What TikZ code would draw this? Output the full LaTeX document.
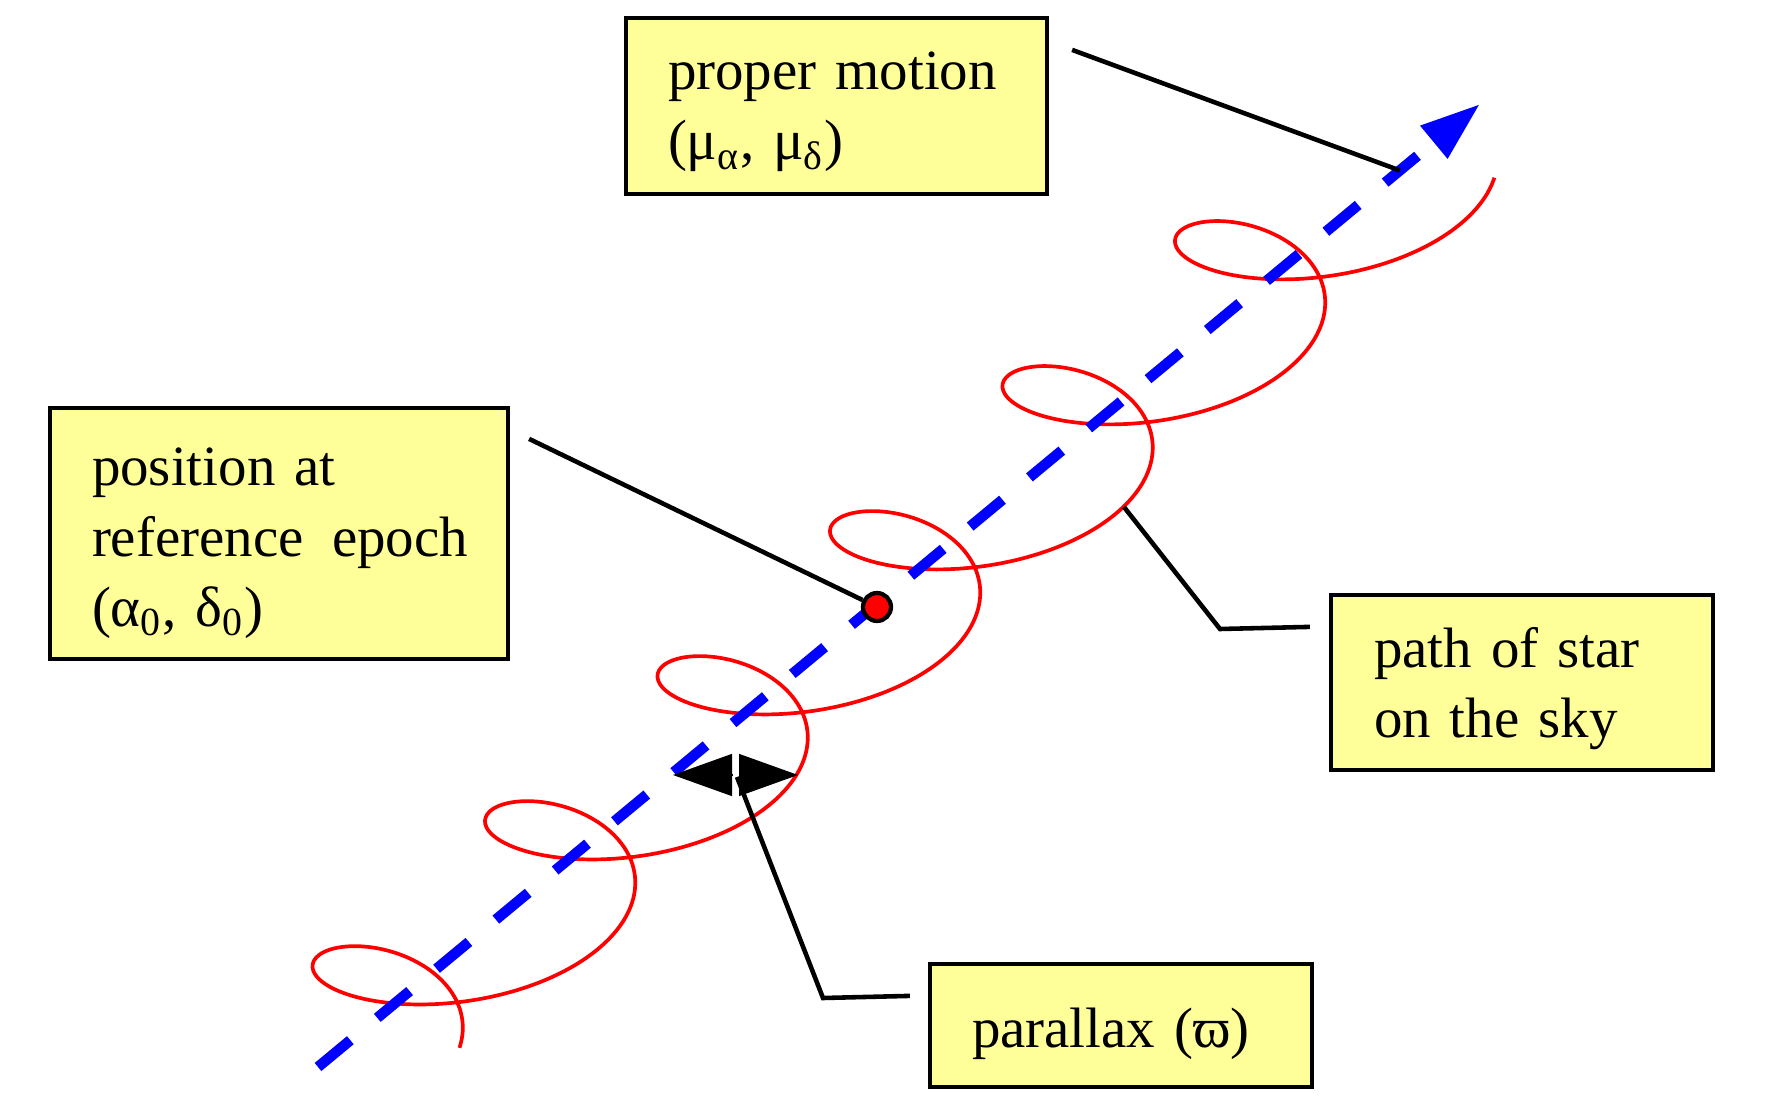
\documentclass[tikz,border=0pt]{standalone}
\usepackage{fontspec}
\setmainfont{Liberation Serif}
\usepackage{tikz}
\usetikzlibrary{arrows.meta, calc}
\definecolor{noteyellow}{RGB}{255,255,153}
\definecolor{pathred}{RGB}{255,0,0}
\definecolor{motionblue}{RGB}{0,0,255}

\begin{document}
\begin{tikzpicture}[
    note/.style={rectangle, draw=black, fill=noteyellow, line width=1.2pt},
    txt/.style={font=\fontsize{16.2}{20}\selectfont, align=left, inner sep=0pt},
    lead/.style={line width=1.3pt, black},
    motion/.style={-{Triangle[length=6mm, width=4mm]}, motionblue, line width=1.05mm, dash pattern=on 4.2mm off 3.5mm},
    starpath/.style={pathred, line width=1.05pt},
    refdot/.style={circle, draw=black, fill=pathred, line width=1.2pt, minimum size=2.8mm, inner sep=0pt},
    plxtip/.style={-{Triangle[length=5.9mm, width=4.2mm]}, line width=0.4pt, black}
]
\useasboundingbox (0,0) rectangle (17.66,-10.97);

% proper motion and path of the star
\coordinate (mstart) at (3.18,-10.67);
\coordinate (mend) at (14.80,-1.04);
\draw[starpath] plot[domain=-360:1800, samples=400, smooth]
    ({5.17+0.0047917*\x+1.15*cos(\x)}, {-9.028+0.0040278*\x+0.61*sin(\x)});
\draw[motion] (mstart) -- (mend);
\node[refdot] (ref) at (8.77,-6.07) {};

% label boxes
\node[note, minimum width=4.21cm, minimum height=1.76cm] (motion) at (8.365,-1.06) {};
\node[txt, text width=3.37cm] (motiontxt) at ($(motion)+(0,-0.06)$) {proper~motion\\(μ\textsubscript{α}, μ\textsubscript{δ})};
\node[note, minimum width=4.58cm, minimum height=2.51cm] (epoch) at (2.79,-5.335) {};
\node[txt, text width=3.74cm] (epochtxt) at ($(epoch)+(0,-0.10)$) {position at\\reference~\,epoch\\(α\textsubscript{0}, δ\textsubscript{0})};
\node[note, minimum width=3.82cm, minimum height=1.75cm] (skypath) at (15.22,-6.825) {};
\node[txt, text width=2.96cm] (skypathtxt) at ($(skypath)+(0,-0.06)$) {path~of~star\\on~the~sky};
\node[note, minimum width=3.82cm, minimum height=1.23cm] (parallax) at (11.21,-10.255) {};
\node[txt, text width=2.98cm] (parallaxtxt) at ($(parallax)+(0,-0.08)$) {parallax~(ϖ)};

% parallax arrows
\coordinate (plx) at (7.355,-7.75);
\draw[plxtip] ($(plx)+(-0.035,0)$) -- ++(-0.59,0);
\draw[plxtip] ($(plx)+(0.035,0)$) -- ++(0.59,0);

% leader lines
\coordinate (curvept) at (11.24,-5.07);
\draw[lead] ($(motion.north east)+(0.23,-0.34)$) -- ($(mstart)!0.931!(mend)$);
\draw[lead] ($(epoch.north east)+(0.19,-0.33)$) -- (ref);
\draw[lead] (curvept) -- (12.20,-6.29) -- ($(skypath.north west)+(-0.19,-0.34)$);
\draw[lead] ($(plx)+(0.015,-0.02)$) -- (8.23,-9.98) -- ($(parallax.north west)+(-0.18,-0.34)$);
\end{tikzpicture}
\end{document}
